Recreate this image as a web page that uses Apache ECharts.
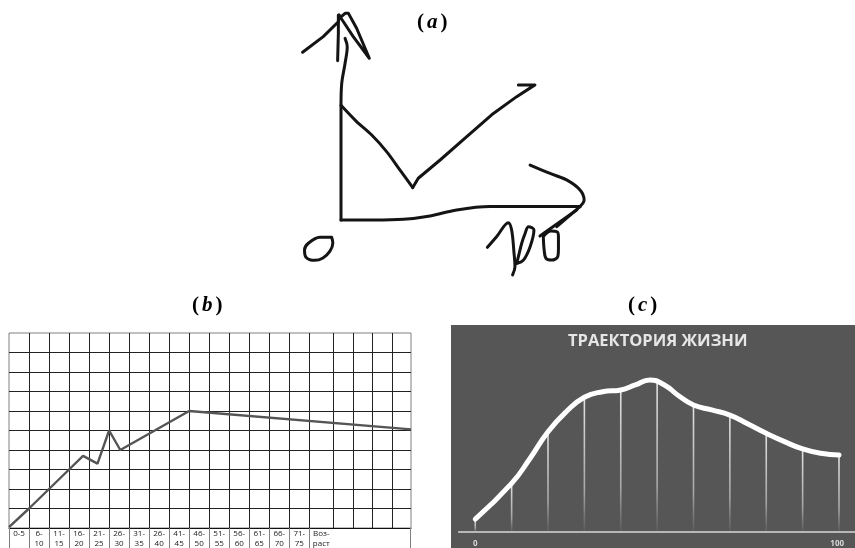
<!DOCTYPE html>
<html><head><meta charset="utf-8">
<style>html,body{margin:0;padding:0;background:#fff}#c{width:855px;height:548px}</style>
<script src="https://cdn.jsdelivr.net/npm/echarts@6/dist/echarts.min.js"></script>
</head><body><div id="c"></div>
<script>
// Panel (a): hand-drawn strokes, values on a 0-100 sketch scale
const arrowLeft=[[-16,69.9],[-7.4,76.4],[-1.1,82.6],[-0.7,85.4]];
const arrowStem=[[-1.1,85.4],[-1.1,77.8],[-1.4,66.4]];
const arrowRight=[[-0.7,84],[1.7,86.1],[3.1,86.1],[6.5,79.9],[11.8,67.4],[5.1,76.4],[1,82.6],[-0.4,84.7]];
const axisUp=[[1.7,75.7],[2.6,72.2],[1.7,65.3],[0.3,56.9],[0,47.8],[0,0]];
const fallCurve=[[0,47.8],[6.5,41],[12.8,35.4],[19,28.5],[24.6,20.8],[29.9,13.5]];
const riseCurve=[[29.9,13.5],[32.2,17.4],[41.3,25],[52.4,34.7],[63.5,44.4],[73.2,51.4],[80.8,56.3],[73.9,56.3]];
const baseCurve=[[0,0],[13.5,0],[26,0.3],[37.1,1.7],[48.2,4.2],[62.1,5.6],[76,5.6],[99.6,5.6]];
const hookCurve=[[99.6,5.6],[101.3,8.3],[99.6,12.5],[94,16.7],[87.1,19.4],[78.8,22.9]];
const tailOne=[[99.6,5.6],[89.9,-2.8]];
const tailTwo=[[98.2,4.2],[86.4,-4.2],[82.9,-6.7]];
const digitOne=[[61,-11.4],[64.9,-6.9],[69.7,-1.1],[71.1,-4.2],[72.1,-13.9],[72.5,-19.4],[71.5,-22.9]];
const digitZeroA=[[73.2,-18.1],[76,-16.7],[78.8,-11.1],[80.4,-4.2],[78.1,-2.8],[76.7,-5.6],[75.3,-9.7],[73.9,-15.3],[73.2,-18.1]];
const digitZeroB=[[84.3,-6.9],[87.5,-4.6],[90,-4.9],[90.6,-6.9],[90.6,-12],[90.3,-15.3],[87.8,-16.7],[85.4,-16],[84.6,-12],[84.3,-6.9]];
const digitZeroOrigin=[[-3.9,-7.2],[-8.8,-7.2],[-13.6,-9.7],[-15.2,-12.5],[-14.6,-15.5],[-11,-16.8],[-7.5,-15.8],[-4.6,-13],[-3.4,-9.6],[-3.9,-7.2]];

// Panel (b): table chart
const ageLabels=['0-5','6-\n10','11-\n15','16-\n20','21-\n25','26-\n30','31-\n35','26-\n40','41-\n45','46-\n50','51-\n55','56-\n60','61-\n65','66-\n70','71-\n75','Воз-\nраст'];
const ageCentres=[2.5,7.5,12.5,17.5,22.5,27.5,32.5,37.5,42.5,47.5,52.5,57.5,62.5,67.5,72.5,78];
const columnEdges=[0,5,10,15,20,25,30,35,40,45,50,55,60,65,70,75,81,85.9,90.7,95.6,100.4];
const labelRowEdges=[0,5,10,15,20,25,30,35,40,45,50,55,60,65,70,75,100.3];
const lifeAges=[0,5,15,18.5,22.1,25,27.8,45,100.4];
const lifeValues=[0.05,1,3,3.7,3.3,5,4,6,5.06];

// Panel (c): life trajectory
const trajectoryAges=[0,10,15,20,25,30,35,40,44,48,52,56,60,65,70,75,80,85,90,95,100];
const trajectoryValues=[8.1,30.4,45.8,62.7,75.2,84.2,87.7,88.8,91.9,95,91.9,85,79.4,76.3,73.1,67.5,61.7,56.5,51.9,49.2,48.1];
const dropAges=[0,10,20,30,40,50,60,70,80,90,100];
const dropValues=[8.1,30.4,62.7,84.2,88.8,94.6,79.4,73.1,61.7,51.9,48.1];
const axisSpan=[-4.7,104.4];
const endLabels=[0,99.5];
const endLabelTexts=['0','100'];
const chartTitleC='ТРАЕКТОРИЯ ЖИЗНИ';

const chart=echarts.init(document.getElementById('c'),null,{renderer:'canvas'});
const pair=(xs,ys)=>xs.map((x,i)=>[x,ys[i]]);
const ink='#141414';
const sharp=[arrowLeft,arrowStem,arrowRight,riseCurve,tailOne,tailTwo,fallCurve];
const soft=[axisUp,baseCurve,hookCurve,digitOne,digitZeroA,digitZeroB,digitZeroOrigin];
const stroke=(data,smooth)=>({type:'line',xAxisIndex:0,yAxisIndex:0,data,smooth,showSymbol:false,symbol:'none',clip:false,
  lineStyle:{color:ink,width:3,cap:'round',join:'round'},silent:true});
const letter=(l,x,y)=>({text:`{p|(}{i|${l}}{p|)}`,left:x,top:y,padding:0,textStyle:{rich:{
  p:{fontFamily:'Liberation Serif',fontSize:21,fontWeight:'bold',color:'#000'},
  i:{fontFamily:'Liberation Serif',fontSize:21,fontStyle:'italic',fontWeight:'bold',color:'#000',padding:[0,3,0,3]}}}});
const hidden=(extra)=>Object.assign({type:'value',show:false,splitLine:{show:false}},extra);

chart.setOption({
  animation:false,backgroundColor:'#fff',
  title:[letter('a',417,12),letter('b',192,295),letter('c',628,295),
    {text:chartTitleC,left:568,top:333,padding:0,textStyle:{fontFamily:'Open Sans',fontWeight:'bold',fontSize:16.5,color:'#e6e6e6'}}],
  grid:[
    {left:293,top:4,width:312,height:288,outerBoundsMode:'none'},
    {left:9,top:333,width:402,height:195,show:true,borderColor:'#808080',borderWidth:1,backgroundColor:'#fff',outerBoundsMode:'none'},
    {left:451,top:325,width:404,height:223,show:true,borderWidth:0,backgroundColor:'#565656',outerBoundsMode:'none'}
  ],
  xAxis:[
    hidden({gridIndex:0,min:-20,max:110}),
    {type:'value',gridIndex:1,position:'bottom',min:0,max:100.4,
      axisLine:{show:true,lineStyle:{color:'#111',width:1}},
      axisTick:{show:true,customValues:labelRowEdges,length:20,lineStyle:{color:'#808080'}},
      axisLabel:{show:true,customValues:ageCentres,margin:1,hideOverlap:false,fontFamily:'Open Sans',fontSize:8,lineHeight:10,color:'#222',align:'center',verticalAlign:'top',
        formatter:v=>ageLabels[ageCentres.indexOf(v)]||''},
      splitLine:{show:false}},
    {type:'value',gridIndex:1,position:'top',min:0,max:100.4,
      axisLine:{show:false},axisLabel:{show:false},
      axisTick:{show:false,customValues:columnEdges},
      splitLine:{show:true,showMinLine:false,showMaxLine:false,lineStyle:{color:'#222',width:1}}},
    {type:'value',gridIndex:2,position:'bottom',offset:-16,min:-6.67,max:104.4,axisLine:{show:false,onZero:false},axisTick:{show:false},splitLine:{show:false},
      axisLabel:{show:true,customValues:endLabels,margin:8,hideOverlap:false,fontFamily:'Open Sans',fontWeight:'bold',fontSize:8,color:'#d8d8d8',
        formatter:v=>endLabelTexts[endLabels.indexOf(v)]}}
  ],
  yAxis:[
    hidden({gridIndex:0,min:-30,max:90}),
    {type:'value',gridIndex:1,min:0,max:10,interval:1,axisLine:{show:false},axisTick:{show:false},axisLabel:{show:false},
      splitLine:{show:true,showMinLine:false,showMaxLine:false,lineStyle:{color:'#222',width:1}}},
    hidden({gridIndex:2,min:-10,max:129.4})
  ],
  series:[
    ...sharp.map(d=>stroke(d,d===fallCurve?0.3:false)),
    ...soft.map(d=>stroke(d,0.35)),
    {type:'line',xAxisIndex:1,yAxisIndex:1,data:pair(lifeAges,lifeValues),showSymbol:false,symbol:'none',
      lineStyle:{color:'#555',width:2.4},silent:true},
    {type:'bar',xAxisIndex:3,yAxisIndex:2,data:pair(dropAges,dropValues),barWidth:1.6,silent:true,
      itemStyle:{color:new echarts.graphic.LinearGradient(0,0,0,1,[{offset:0,color:'rgba(235,235,235,0.95)'},{offset:0.7,color:'rgba(220,220,220,0.6)'},{offset:1,color:'rgba(200,200,200,0.05)'}])}},
    {type:'line',xAxisIndex:3,yAxisIndex:2,data:axisSpan.map(x=>[x,0]),showSymbol:false,symbol:'none',
      lineStyle:{color:'#d8d8d8',width:1.6},silent:true},
    {type:'line',xAxisIndex:3,yAxisIndex:2,data:pair(trajectoryAges,trajectoryValues),smooth:0.5,showSymbol:false,symbol:'none',
      lineStyle:{color:'#fff',width:5,cap:'round'},silent:true}
  ]
});
</script></body></html>
